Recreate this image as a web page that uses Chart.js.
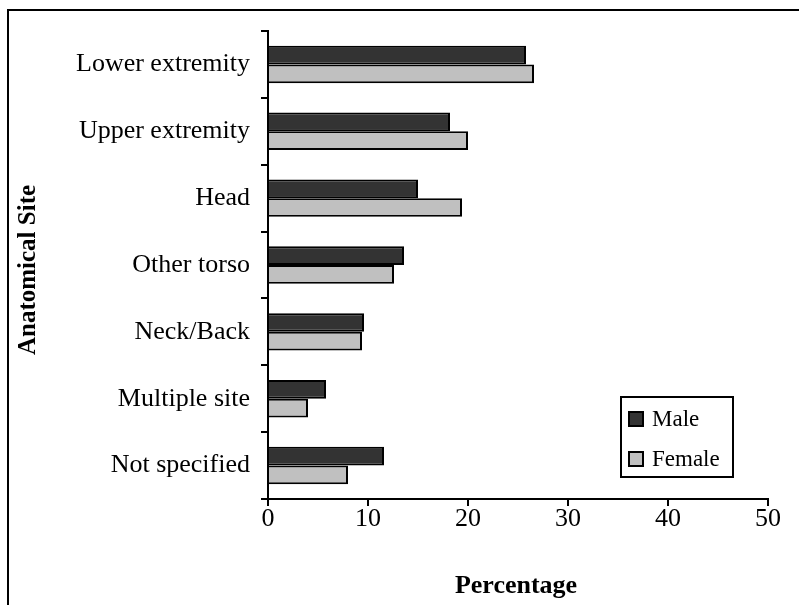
<!DOCTYPE html>
<html>
<head>
<meta charset="utf-8">
<script src="https://cdn.jsdelivr.net/npm/chart.js@4"></script>
<style>
  html, body { margin: 0; padding: 0; background: #fff; }
  #wrap { position: relative; width: 799px; height: 605px; overflow: hidden; }
  #frame { position: absolute; left: 7px; top: 9px; width: 830px; height: 640px; border: 2px solid #000; }
  canvas { position: absolute; left: 0; top: 0; }
</style>
</head>
<body>
<div id="wrap">
  <div id="frame"></div>
  <canvas id="chart" width="799" height="605"></canvas>
</div>
<script>
// categories and values (percent)
const sites = ['Lower extremity', 'Upper extremity', 'Head', 'Other torso', 'Neck/Back', 'Multiple site', 'Not specified'];
const male = [25.8, 18.2, 15.0, 13.6, 9.6, 5.8, 11.6];
const female = [26.6, 20.0, 19.4, 12.6, 9.4, 4.0, 8.0];
const xTicks = [0, 10, 20, 30, 40, 50];

const serif = "'Liberation Serif', 'Times New Roman', serif";

// legend box inside the plot + axis titles placed like the original
const extras = {
  id: 'extras',
  afterDraw(chart) {
    const ctx = chart.ctx;
    const x = 621, y = 397, w = 112, h = 80;
    ctx.save();
    ctx.fillStyle = '#fff';
    ctx.fillRect(x, y, w, h);
    ctx.strokeStyle = '#000';
    ctx.lineWidth = 2;
    ctx.strokeRect(x, y, w, h);
    ctx.font = '23px ' + serif;
    ctx.textBaseline = 'middle';
    chart.data.datasets.forEach((ds, i) => {
      const cy = y + 22 + i * 40;
      ctx.fillStyle = ds.backgroundColor;
      ctx.fillRect(x + 8, cy - 7, 14, 14);
      ctx.lineWidth = 2;
      ctx.strokeRect(x + 8, cy - 7, 14, 14);
      ctx.fillStyle = '#000';
      ctx.fillText(ds.label, x + 31, cy + 1);
    });

    // axis titles
    ctx.fillStyle = '#000';
    ctx.font = 'bold 26px ' + serif;
    ctx.textAlign = 'center';
    ctx.textBaseline = 'middle';
    ctx.fillText('Percentage', 516, 586);
    ctx.font = 'bold 25px ' + serif;
    ctx.translate(29, 270);
    ctx.rotate(-Math.PI / 2);
    ctx.fillText('Anatomical Site', 0, 0);
    ctx.restore();
  }
};

new Chart(document.getElementById('chart'), {
  type: 'bar',
  data: {
    labels: sites,
    datasets: [{
      label: 'Male',
      data: male,
      backgroundColor: '#333333',
      borderColor: '#000',
      borderWidth: 2,
      categoryPercentage: 0.56,
      barPercentage: 1
    }, {
      label: 'Female',
      data: female,
      backgroundColor: '#c0c0c0',
      borderColor: '#000',
      borderWidth: 2,
      categoryPercentage: 0.56,
      barPercentage: 1
    }]
  },
  options: {
    indexAxis: 'y',
    responsive: false,
    animation: false,
    layout: { padding: { top: 31, right: 31, left: 0, bottom: 0 } },
    plugins: {
      legend: { display: false },
      tooltip: { enabled: false }
    },
    scales: {
      x: {
        min: 0,
        max: 50,
        afterBuildTicks: (scale) => { scale.ticks = xTicks.map(v => ({ value: v })); },
        afterFit: (scale) => { scale.height = 106; },
        border: { color: '#000', width: 2 },
        grid: { drawOnChartArea: false, tickLength: 7, color: '#000', lineWidth: 2 },
        ticks: { color: '#000', padding: -2, font: { family: serif, size: 26 } }
      },
      y: {
        afterFit: (scale) => { scale.width = 268; },
        border: { color: '#000', width: 2 },
        grid: { drawOnChartArea: false, tickLength: 7, color: '#000', lineWidth: 2, offset: true },
        ticks: { color: '#000', padding: 11, font: { family: serif, size: 26 } }
      }
    }
  },
  plugins: [extras]
});
</script>
</body>
</html>
